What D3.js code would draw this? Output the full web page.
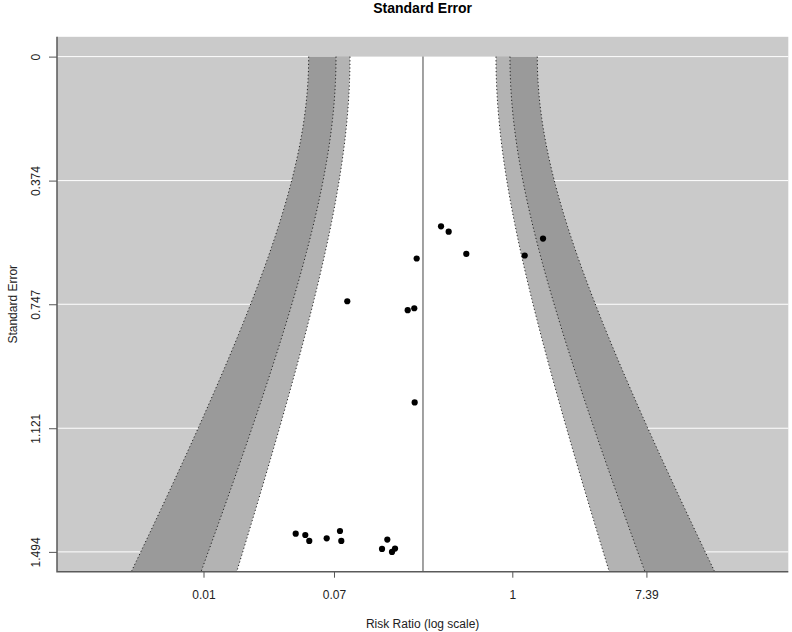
<!DOCTYPE html>
<html>

<head>
    <meta charset="utf-8">
    <title>Funnel plot</title>
    <style>
        body { margin: 0; background: #fff; }
        text { font-family: "Liberation Sans", Arial, sans-serif; }
    </style>
</head>

<body>
    <svg id="grafico" width="792" height="632"></svg>

    <script src="https://d3js.org/d3.v7.min.js"></script>
    <script>
        // log risk ratio and standard error of each study
        var logRR = [-1.063, -0.949, -0.686, -1.426, 0.185, 0.458, -2.461, -1.560, -1.462, -1.456,
            -3.230, -3.087, -3.028, -2.768, -2.570, -2.550, -1.864, -1.943, -1.749, -1.794];
        var stdErr = [0.512, 0.528, 0.595, 0.609, 0.600, 0.549, 0.738, 0.765, 0.759, 1.043,
            1.439, 1.443, 1.461, 1.453, 1.431, 1.461, 1.457, 1.485, 1.484, 1.494];

        var tickRR = [0.01, 0.07, 1, 7.39];
        var tickSE = [0, 0.374, 0.747, 1.121, 1.494];

        var refLine = -1.332;   // pooled estimate (log scale)
        var tau2 = 0.438;       // heterogeneity added to the contours
        var levels = [0.99, 0.95, 0.90];
        var shades = ["#9a9a9a", "#b3b3b3", "#ffffff"];

        var svg = d3.select("#grafico");

        // plot box (window.top is reserved, so use other names)
        var pLeft = 57, pRight = 788.3, pTop = 36.8, pBottom = 571.7;

        var x = d3.scaleLinear().domain([-6.79, 4.116]).range([pLeft, pRight]);
        var seMax = d3.max(stdErr);
        var pad = seMax * 0.04;
        var y = d3.scaleLinear().domain([-pad, seMax + pad]).range([pTop, pBottom]);

        // normal quantile (Acklam approximation)
        function qnorm(p) {
            var a = [-39.69683028665376, 220.9460984245205, -275.9285104469687, 138.3577518672690, -30.66479806614716, 2.506628277459239];
            var b = [-54.47609879822406, 161.5858368580409, -155.6989798598866, 66.80131188771972, -13.28068155288572];
            var c = [-0.007784894002430293, -0.3223964580411365, -2.400758277161838, -2.549732539343734, 4.374664141464968, 2.938163982698783];
            var dd = [0.007784695709041462, 0.3224671290700398, 2.445134137142996, 3.754408661907416];
            var q, r;
            if (p < 0.02425) {
                q = Math.sqrt(-2 * Math.log(p));
                return (((((c[0] * q + c[1]) * q + c[2]) * q + c[3]) * q + c[4]) * q + c[5]) /
                    ((((dd[0] * q + dd[1]) * q + dd[2]) * q + dd[3]) * q + 1);
            }
            q = p - 0.5; r = q * q;
            return (((((a[0] * r + a[1]) * r + a[2]) * r + a[3]) * r + a[4]) * r + a[5]) * q /
                (((((b[0] * r + b[1]) * r + b[2]) * r + b[3]) * r + b[4]) * r + 1);
        }

        // background
        svg.append("rect")
            .attr("x", pLeft).attr("y", pTop)
            .attr("width", pRight - pLeft).attr("height", pBottom - pTop)
            .style("fill", "#cacaca");

        // white grid lines
        svg.selectAll(".grid")
            .data(tickSE)
            .enter()
            .append("line")
            .attr("x1", pLeft).attr("x2", pRight)
            .attr("y1", function (d) { return y(d); })
            .attr("y2", function (d) { return y(d); })
            .style("stroke", "#ffffff")
            .style("stroke-width", 1);

        // contour regions
        var seVals = d3.range(0, 101).map(function (i) { return (seMax + pad) * i / 100; });

        function bound(z, s, side) {
            return refLine + side * z * Math.sqrt(s * s + tau2);
        }

        var line = d3.line()
            .x(function (d) { return x(d[0]); })
            .y(function (d) { return y(d[1]); });

        levels.forEach(function (lev, i) {
            var z = -qnorm((1 - lev) / 2);
            var leftSide = seVals.map(function (s) { return [bound(z, s, -1), s]; });
            var rightSide = seVals.slice().reverse().map(function (s) { return [bound(z, s, 1), s]; });
            svg.append("path")
                .attr("d", line(leftSide.concat(rightSide)) + "Z")
                .style("fill", shades[i])
                .style("stroke", "none");
        });

        levels.forEach(function (lev) {
            var z = -qnorm((1 - lev) / 2);
            [-1, 1].forEach(function (side) {
                svg.append("path")
                    .attr("d", line(seVals.map(function (s) { return [bound(z, s, side), s]; })))
                    .style("fill", "none")
                    .style("stroke", "#222")
                    .style("stroke-width", 1)
                    .style("stroke-dasharray", "1.2,2.4");
            });
        });

        // reference line
        svg.append("line")
            .attr("x1", x(refLine)).attr("x2", x(refLine))
            .attr("y1", y(0)).attr("y2", pBottom)
            .style("stroke", "#707070")
            .style("stroke-width", 1.3);

        // studies
        svg.selectAll(".ponto")
            .data(logRR)
            .enter()
            .append("circle")
            .attr("cx", function (d) { return x(d); })
            .attr("cy", function (d, i) { return y(stdErr[i]); })
            .attr("r", 3.1)
            .style("fill", "#000");

        // axes
        var xAxis = svg.append("g")
            .attr("transform", "translate(0," + pBottom + ")")
            .call(d3.axisBottom(x)
                .tickValues(tickRR.map(function (d) { return Math.log(d); }))
                .tickFormat(function (d, i) { return tickRR[i]; })
                .tickSize(6));
        xAxis.select(".domain").remove();
        xAxis.selectAll("line").style("stroke", "#555");
        xAxis.selectAll("text")
            .attr("y", 27)
            .attr("dy", null)
            .style("font-size", "12px")
            .style("fill", "#222");

        var yAxis = svg.append("g")
            .attr("transform", "translate(" + pLeft + ",0)")
            .call(d3.axisLeft(y)
                .tickValues(tickSE)
                .tickFormat(function (d) { return d; })
                .tickSize(8));
        yAxis.select(".domain").remove();
        yAxis.selectAll("line").style("stroke", "#555");
        yAxis.selectAll("text")
            .attr("transform", "rotate(-90)")
            .attr("x", 0)
            .attr("y", -17.5)
            .attr("dy", null)
            .style("text-anchor", "middle")
            .style("font-size", "12px")
            .style("fill", "#222");

        // box lines (left and bottom)
        svg.append("path")
            .attr("d", "M" + pLeft + "," + pTop + "V" + pBottom + "H" + pRight)
            .style("fill", "none")
            .style("stroke", "#5a5a5a")
            .style("stroke-width", 1.5);

        // titles
        svg.append("text")
            .attr("x", (pLeft + pRight) / 2).attr("y", 12.5)
            .attr("text-anchor", "middle")
            .style("font-weight", "bold")
            .style("font-size", "14px")
            .text("Standard Error");

        svg.append("text")
            .attr("x", (pLeft + pRight) / 2).attr("y", 627.5)
            .attr("text-anchor", "middle")
            .style("font-size", "12px")
            .style("fill", "#222")
            .text("Risk Ratio (log scale)");

        svg.append("text")
            .attr("transform", "translate(16.5," + (pTop + pBottom) / 2 + ") rotate(-90)")
            .attr("text-anchor", "middle")
            .style("font-size", "12px")
            .style("fill", "#222")
            .text("Standard Error");
    </script>
</body>

</html>
